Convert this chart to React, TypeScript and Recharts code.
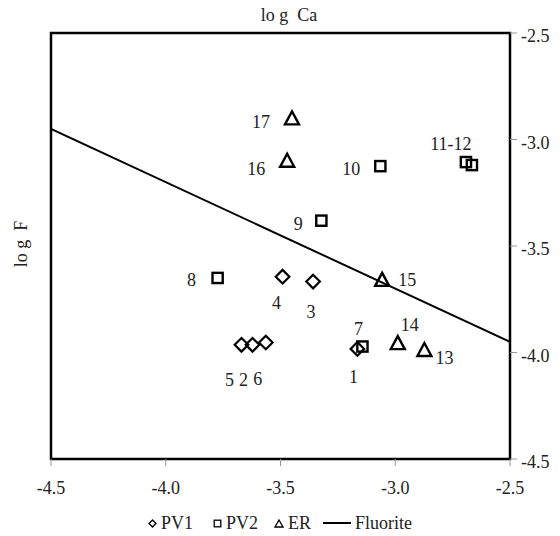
import React from 'react';
import { ScatterChart, Scatter, XAxis, YAxis, Legend, ReferenceArea } from 'recharts';

// ---- data ----
const xTicks = [-4.5, -4.0, -3.5, -3.0, -2.5];
const yTicks = [-4.5, -4.0, -3.5, -3.0, -2.5];

const pv1Labels = ['1', '2', '3', '4', '5', '6'];
const pv1X = [-3.165, -3.622, -3.358, -3.491, -3.670, -3.564];
const pv1Y = [-3.983, -3.964, -3.667, -3.644, -3.964, -3.953];

const pv2Labels = ['7', '8', '9', '10', '11-12', ''];
const pv2X = [-3.143, -3.774, -3.322, -3.065, -2.692, -2.666];
const pv2Y = [-3.972, -3.650, -3.381, -3.125, -3.106, -3.120];

const erLabels = ['13', '14', '15', '16', '17'];
const erX = [-2.873, -2.989, -3.057, -3.471, -3.450];
const erY = [-3.988, -3.956, -3.659, -3.100, -2.901];

const fluoriteX = [-4.5, -2.5];
const fluoriteY = [-2.95, -3.95];

const seriesNames = ['PV1', 'PV2', 'ER', 'Fluorite'];
const titleText = 'lo g  Ca';
const yTitleText = 'lo g  F';

// ---- layout (label offsets, px) ----
const labelOffsets: Record<string, [number, number]> = {
  '1': [-4, 28],
  '2': [-9, 35],
  '3': [-2, 30],
  '4': [-6, 26],
  '5': [-12, 35],
  '6': [-8, 37],
  '7': [-4, -18],
  '8': [-26, 2],
  '9': [-23, 3],
  '10': [-29, 3],
  '11-12': [-15, -18],
  '13': [20, 8],
  '14': [12, -18],
  '15': [25, 0],
  '16': [-31, 8],
  '17': [-31, 4],
};

const FONT = '"Liberation Serif", "Times New Roman", serif';
const TEXT = '#222';
const FS = 18;

const build = (xs: number[], ys: number[], labels?: string[]) =>
  xs.map((x, i) => ({ x, y: ys[i], label: labels ? labels[i] : '' }));

const pv1Data = build(pv1X, pv1Y, pv1Labels);
const pv2Data = build(pv2X, pv2Y, pv2Labels);
const erData = build(erX, erY, erLabels);
const fluoriteData = build(fluoriteX, fluoriteY);

const PointLabel = ({ cx, cy, label }: any) => {
  if (!label) return null;
  const off = labelOffsets[label] || [0, 0];
  return (
    <text
      x={cx + off[0]}
      y={cy + off[1]}
      textAnchor="middle"
      dominantBaseline="central"
      fontFamily={FONT}
      fontSize={FS}
      fill={TEXT}
    >
      {label}
    </text>
  );
};

const DiamondShape = (props: any) => {
  const { cx, cy, payload } = props;
  const r = 6.8;
  return (
    <g>
      <polygon
        points={`${cx},${cy - r} ${cx + r},${cy} ${cx},${cy + r} ${cx - r},${cy}`}
        fill="none"
        stroke="#000"
        strokeWidth={2.2}
      />
      <PointLabel cx={cx} cy={cy} label={payload?.label} />
    </g>
  );
};

const SquareShape = (props: any) => {
  const { cx, cy, payload } = props;
  const h = 5.1;
  return (
    <g>
      <rect x={cx - h} y={cy - h} width={2 * h} height={2 * h} fill="none" stroke="#000" strokeWidth={2.4} />
      <PointLabel cx={cx} cy={cy} label={payload?.label} />
    </g>
  );
};

const TriangleShape = (props: any) => {
  const { cx, cy, payload } = props;
  return (
    <g>
      <polygon
        points={`${cx},${cy - 7} ${cx + 7},${cy + 6} ${cx - 7},${cy + 6}`}
        fill="none"
        stroke="#000"
        strokeWidth={2.4}
      />
      <PointLabel cx={cx} cy={cy} label={payload?.label} />
    </g>
  );
};

const NoShape = () => <g />;

const XTick = (props: any) => {
  const { x, y, payload } = props;
  return (
    <text x={x} y={y + 20} textAnchor="middle" dominantBaseline="central" fontFamily={FONT} fontSize={FS} fill={TEXT}>
      {Number(payload.value).toFixed(1)}
    </text>
  );
};

const YTick = (props: any) => {
  const { x, y, payload } = props;
  return (
    <text x={x + 2} y={y + 3} textAnchor="start" dominantBaseline="central" fontFamily={FONT} fontSize={FS} fill={TEXT}>
      {Number(payload.value).toFixed(1)}
    </text>
  );
};

const LegendContent = () => {
  const item = (icon: React.ReactNode, name: string, gapAfter: number, textGap: number) => (
    <span style={{ display: 'inline-flex', alignItems: 'center', marginRight: gapAfter }}>
      {icon}
      <span style={{ marginLeft: textGap }}>{name}</span>
    </span>
  );
  return (
    <div
      style={{
        height: 26,
        width: 560,
        display: 'flex',
        justifyContent: 'center',
        alignItems: 'center',
        fontFamily: FONT,
        fontSize: FS,
        color: TEXT,
      }}
    >
      {item(
        <svg width={9} height={9}>
          <polygon points="4.5,1 8,4.5 4.5,8 1,4.5" fill="none" stroke="#000" strokeWidth={1.3} />
        </svg>,
        seriesNames[0],
        20,
        4
      )}
      {item(
        <svg width={9} height={9}>
          <rect x={1.2} y={1.2} width={6.6} height={6.6} fill="none" stroke="#000" strokeWidth={1.3} />
        </svg>,
        seriesNames[1],
        16,
        4
      )}
      {item(
        <svg width={10} height={9}>
          <polygon points="5,1 9,8 1,8" fill="none" stroke="#000" strokeWidth={1.3} />
        </svg>,
        seriesNames[2],
        12,
        4
      )}
      {item(
        <svg width={28} height={10}>
          <line x1={0} y1={5} x2={28} y2={5} stroke="#000" strokeWidth={2} />
        </svg>,
        seriesNames[3],
        0,
        4
      )}
    </div>
  );
};

export default function App() {
  return (
    <div style={{ position: 'absolute', left: 0, top: 0 }}>
      <ScatterChart width={560} height={536} margin={{ top: 0, right: 0, bottom: 0, left: 0 }}>
        <XAxis
          xAxisId="top"
          orientation="top"
          type="number"
          dataKey="x"
          domain={[-4.5, -2.5]}
          height={33}
          tick={false}
          tickLine={false}
          axisLine={false}
          label={{
            content: () => (
              <text
                x={289}
                y={15}
                textAnchor="middle"
                dominantBaseline="central"
                fontFamily={FONT}
                fontSize={FS}
                fill={TEXT}
                style={{ whiteSpace: 'pre' }}
              >
                {titleText}
              </text>
            ),
          }}
        />
        <XAxis
          type="number"
          dataKey="x"
          domain={[-4.5, -2.5]}
          ticks={xTicks}
          allowDataOverflow
          height={51}
          tickSize={7}
          tickMargin={2}
          tickLine={{ stroke: '#999', strokeWidth: 1 }}
          axisLine={false}
          tick={<XTick />}
          interval={0}
        />
        <YAxis
          yAxisId="left"
          orientation="left"
          type="number"
          dataKey="y"
          domain={[-4.5, -2.5]}
          width={51}
          tick={false}
          tickLine={false}
          axisLine={false}
          label={{
            content: () => (
              <text
                x={21}
                y={244}
                transform="rotate(-90 21 244)"
                textAnchor="middle"
                dominantBaseline="central"
                fontFamily={FONT}
                fontSize={FS}
                fill={TEXT}
                style={{ whiteSpace: 'pre' }}
              >
                {yTitleText}
              </text>
            ),
          }}
        />
        <YAxis
          orientation="right"
          type="number"
          dataKey="y"
          domain={[-4.5, -2.5]}
          ticks={yTicks}
          allowDataOverflow
          width={50}
          tickSize={7}
          tickMargin={2}
          tickLine={{ stroke: '#999', strokeWidth: 1 }}
          axisLine={false}
          tick={<YTick />}
          interval={0}
        />
        <ReferenceArea x1={-4.5} x2={-2.5} y1={-4.5} y2={-2.5} fill="none" fillOpacity={0} stroke="#000" strokeWidth={2.5} ifOverflow="visible" />
        <Legend verticalAlign="bottom" align="center" content={<LegendContent />} wrapperStyle={{ margin: 0, padding: 0 }} />
        <Scatter
          name={seriesNames[3]}
          data={fluoriteData}
          line={{ stroke: '#000', strokeWidth: 2 }}
          shape={<NoShape />}
          isAnimationActive={false}
        />
        <Scatter name={seriesNames[0]} data={pv1Data} shape={<DiamondShape />} isAnimationActive={false} />
        <Scatter name={seriesNames[1]} data={pv2Data} shape={<SquareShape />} isAnimationActive={false} />
        <Scatter name={seriesNames[2]} data={erData} shape={<TriangleShape />} isAnimationActive={false} />
      </ScatterChart>
    </div>
  );
}
